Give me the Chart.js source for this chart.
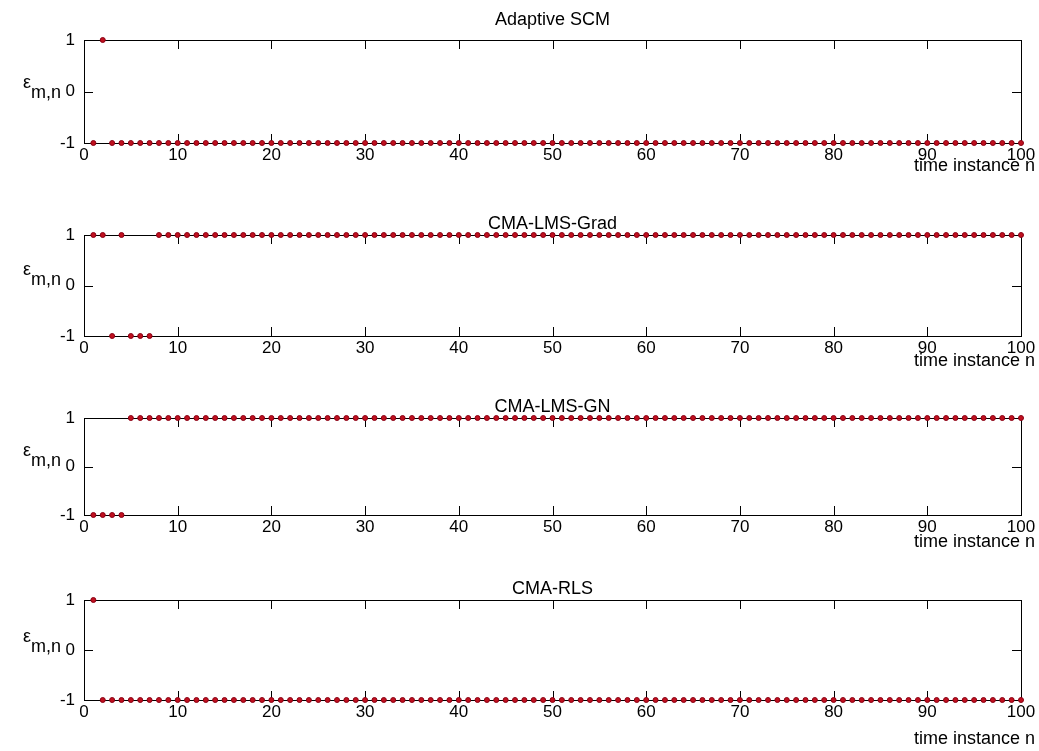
<!DOCTYPE html>
<html>
<head>
<meta charset="utf-8">
<script src="https://cdn.jsdelivr.net/npm/chart.js@4/dist/chart.umd.min.js"></script>
<style>
html, body { margin: 0; padding: 0; background: #fff; }
#wrap { position: relative; width: 1039px; height: 751px; overflow: hidden; }
canvas { position: absolute; left: 0; }
</style>
</head>
<body>
<div id="wrap"></div>
<script>
// time instances n
const timeInstance = [
  1, 2, 3, 4, 5, 6, 7, 8, 9, 10, 11, 12, 13, 14, 15, 16, 17, 18, 19, 20,
  21, 22, 23, 24, 25, 26, 27, 28, 29, 30, 31, 32, 33, 34, 35, 36, 37, 38, 39, 40,
  41, 42, 43, 44, 45, 46, 47, 48, 49, 50, 51, 52, 53, 54, 55, 56, 57, 58, 59, 60,
  61, 62, 63, 64, 65, 66, 67, 68, 69, 70, 71, 72, 73, 74, 75, 76, 77, 78, 79, 80,
  81, 82, 83, 84, 85, 86, 87, 88, 89, 90, 91, 92, 93, 94, 95, 96, 97, 98, 99, 100
];

const titles = ['Adaptive SCM', 'CMA-LMS-Grad', 'CMA-LMS-GN', 'CMA-RLS'];

const epsAdaptiveSCM = [
  -1, 1, -1, -1, -1, -1, -1, -1, -1, -1, -1, -1, -1, -1, -1, -1, -1, -1, -1, -1,
  -1, -1, -1, -1, -1, -1, -1, -1, -1, -1, -1, -1, -1, -1, -1, -1, -1, -1, -1, -1,
  -1, -1, -1, -1, -1, -1, -1, -1, -1, -1, -1, -1, -1, -1, -1, -1, -1, -1, -1, -1,
  -1, -1, -1, -1, -1, -1, -1, -1, -1, -1, -1, -1, -1, -1, -1, -1, -1, -1, -1, -1,
  -1, -1, -1, -1, -1, -1, -1, -1, -1, -1, -1, -1, -1, -1, -1, -1, -1, -1, -1, -1
];
const epsLmsGrad = [
  1, 1, -1, 1, -1, -1, -1, 1, 1, 1, 1, 1, 1, 1, 1, 1, 1, 1, 1, 1,
  1, 1, 1, 1, 1, 1, 1, 1, 1, 1, 1, 1, 1, 1, 1, 1, 1, 1, 1, 1,
  1, 1, 1, 1, 1, 1, 1, 1, 1, 1, 1, 1, 1, 1, 1, 1, 1, 1, 1, 1,
  1, 1, 1, 1, 1, 1, 1, 1, 1, 1, 1, 1, 1, 1, 1, 1, 1, 1, 1, 1,
  1, 1, 1, 1, 1, 1, 1, 1, 1, 1, 1, 1, 1, 1, 1, 1, 1, 1, 1, 1
];
const epsLmsGN = [
  -1, -1, -1, -1, 1, 1, 1, 1, 1, 1, 1, 1, 1, 1, 1, 1, 1, 1, 1, 1,
  1, 1, 1, 1, 1, 1, 1, 1, 1, 1, 1, 1, 1, 1, 1, 1, 1, 1, 1, 1,
  1, 1, 1, 1, 1, 1, 1, 1, 1, 1, 1, 1, 1, 1, 1, 1, 1, 1, 1, 1,
  1, 1, 1, 1, 1, 1, 1, 1, 1, 1, 1, 1, 1, 1, 1, 1, 1, 1, 1, 1,
  1, 1, 1, 1, 1, 1, 1, 1, 1, 1, 1, 1, 1, 1, 1, 1, 1, 1, 1, 1
];
const epsRLS = [
  1, -1, -1, -1, -1, -1, -1, -1, -1, -1, -1, -1, -1, -1, -1, -1, -1, -1, -1, -1,
  -1, -1, -1, -1, -1, -1, -1, -1, -1, -1, -1, -1, -1, -1, -1, -1, -1, -1, -1, -1,
  -1, -1, -1, -1, -1, -1, -1, -1, -1, -1, -1, -1, -1, -1, -1, -1, -1, -1, -1, -1,
  -1, -1, -1, -1, -1, -1, -1, -1, -1, -1, -1, -1, -1, -1, -1, -1, -1, -1, -1, -1,
  -1, -1, -1, -1, -1, -1, -1, -1, -1, -1, -1, -1, -1, -1, -1, -1, -1, -1, -1, -1
];

const xTicks = [0, 10, 20, 30, 40, 50, 60, 70, 80, 90, 100];
const yTicks = [-1, 0, 1];

const series = [epsAdaptiveSCM, epsLmsGrad, epsLmsGN, epsRLS];

// layout of the four panels (page pixels); canvases overlap, they are transparent
const panels = [
  { top: 0,   height: 190, axisTop: 40,  axisBottom: 143, titleBase: 25,  labX: 31, labBase: 6,  xlabBase: 28 },
  { top: 185, height: 190, axisTop: 235, axisBottom: 336, titleBase: 229, labX: 31, labBase: -1, xlabBase: 30 },
  { top: 368, height: 190, axisTop: 418, axisBottom: 515, titleBase: 412, labX: 31, labBase: -1, xlabBase: 32 },
  { top: 550, height: 201, axisTop: 600, axisBottom: 700, titleBase: 594, labX: 31, labBase: 2,  xlabBase: 44 }
];

const FONT = '"Liberation Sans", Arial, sans-serif';
const TICK_LEN = 9;

const matlabFrame = {
  id: 'matlabFrame',
  beforeDatasetsDraw(chart, args, opts) {
    const { ctx, chartArea: a, scales: { x, y } } = chart;
    ctx.save();
    ctx.strokeStyle = '#000';
    ctx.lineWidth = 1;
    ctx.strokeRect(a.left + 0.5, a.top + 0.5, a.right - a.left, a.bottom - a.top);
    ctx.beginPath();
    xTicks.forEach(v => {
      const px = Math.round(x.getPixelForValue(v)) + 0.5;
      ctx.moveTo(px, a.top);
      ctx.lineTo(px, a.top + TICK_LEN);
      ctx.moveTo(px, a.bottom);
      ctx.lineTo(px, a.bottom - TICK_LEN);
    });
    yTicks.forEach(v => {
      const py = Math.round(y.getPixelForValue(v)) + 0.5;
      ctx.moveTo(a.left, py);
      ctx.lineTo(a.left + TICK_LEN, py);
      ctx.moveTo(a.right, py);
      ctx.lineTo(a.right - TICK_LEN, py);
    });
    ctx.stroke();
    ctx.restore();
  },
  afterDraw(chart, args, opts) {
    const { ctx, chartArea: a } = chart;
    const p = opts.panel;
    const off = p.top;
    const mid = (a.top + a.bottom) / 2;
    ctx.save();
    ctx.fillStyle = '#000';
    ctx.font = '18px ' + FONT;
    ctx.textBaseline = 'alphabetic';
    // title
    ctx.textAlign = 'center';
    ctx.fillText(opts.title, (a.left + a.right) / 2, p.titleBase - off);
    // x label
    ctx.textAlign = 'right';
    ctx.fillText('time instance n', 1035, a.bottom + p.xlabBase);
    // y label: epsilon with subscript m,n
    ctx.textAlign = 'right';
    ctx.fillText('\u03b5', p.labX, mid + p.labBase - 10);
    ctx.textAlign = 'left';
    ctx.fillText('m,n', p.labX, mid + p.labBase);
    ctx.restore();
  }
};

const wrap = document.getElementById('wrap');

panels.forEach((p, i) => {
  const canvas = document.createElement('canvas');
  canvas.width = 1039;
  canvas.height = p.height;
  canvas.style.top = p.top + 'px';
  canvas.style.width = '1039px';
  canvas.style.height = p.height + 'px';
  wrap.appendChild(canvas);

  const points = timeInstance.map((n, k) => ({ x: n, y: series[i][k] }));
  const xAxisHeight = p.top + p.height - p.axisBottom;

  new Chart(canvas.getContext('2d'), {
    type: 'scatter',
    data: {
      datasets: [{
        data: points,
        showLine: false,
        pointRadius: 2.5,
        pointHoverRadius: 2.5,
        pointBackgroundColor: '#c0101e',
        pointBorderColor: '#8a0014',
        pointBorderWidth: 1,
        clip: false
      }]
    },
    options: {
      responsive: false,
      animation: false,
      devicePixelRatio: 1,
      events: [],
      layout: { padding: { top: p.axisTop - p.top, right: 18, bottom: 0, left: 0 } },
      plugins: {
        legend: { display: false },
        tooltip: { enabled: false },
        matlabFrame: { panel: p, title: titles[i] }
      },
      scales: {
        x: {
          type: 'linear',
          min: 0,
          max: 100,
          grid: { display: false, drawTicks: false },
          border: { display: false },
          ticks: {
            stepSize: 10,
            autoSkip: false,
            maxRotation: 0,
            padding: 2,
            color: '#000',
            font: { family: FONT, size: 17 }
          },
          afterFit: s => { s.height = xAxisHeight; }
        },
        y: {
          type: 'linear',
          min: -1,
          max: 1,
          grid: { display: false, drawTicks: false },
          border: { display: false },
          ticks: {
            stepSize: 1,
            padding: 9,
            color: '#000',
            font: { family: FONT, size: 17 }
          },
          afterFit: s => { s.width = 84; }
        }
      }
    },
    plugins: [matlabFrame]
  });
});
</script>
</body>
</html>
